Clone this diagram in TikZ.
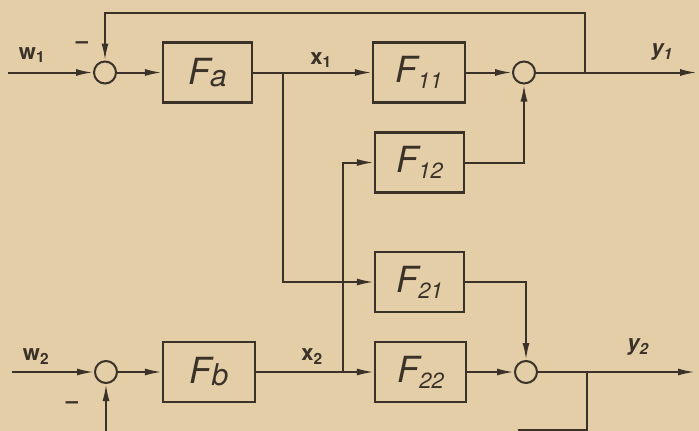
\documentclass[tikz,border=0pt]{standalone}
\usepackage{fontspec}
\setmainfont{TeX Gyre Heros}
\usetikzlibrary{arrows.meta}
\definecolor{paper}{HTML}{E3CEA8}
\definecolor{ink}{HTML}{3A3228}
\tikzset{
  blk/.style={draw=ink, line width=2.2pt, minimum width=89pt, minimum height=60pt, inner sep=0pt, text=ink},
  sum/.style={circle, draw=ink, line width=2pt, minimum size=22pt, inner sep=0pt},
  con/.style={draw=ink, line width=2pt},
  arr/.style={con, -{Latex[length=17pt,width=7pt]}},
  lbl/.style={text=ink, font=\fontsize{22}{22}\selectfont\bfseries},
  ff/.style={font=\fontsize{36}{36}\selectfont\itshape}
}
\begin{document}
\begin{tikzpicture}[x=1pt,y=-1pt]
\fill[paper] (0,0) rectangle (699,431);
\useasboundingbox (0,0) rectangle (699,431);

% sum junctions
\node[sum] (c1) at (105,72.5) {};
\node[sum] (c2) at (524,72.5) {};
\node[sum] (c3) at (106,372) {};
\node[sum] (c4) at (526,372) {};

% blocks
\node[blk, ff] (Fa) at (207.5,72.5) {F\raisebox{-2pt}{\fontsize{30}{30}\selectfont a}};
\node[blk, ff, minimum width=92pt] (F11) at (419,72.5) {F\raisebox{-6pt}{\fontsize{22}{22}\selectfont 11}};
\node[blk, ff] (F12) at (419.5,162.5) {F\raisebox{-6pt}{\fontsize{22}{22}\selectfont 12}};
\node[blk, ff] (F21) at (419.5,282) {F\raisebox{-6pt}{\fontsize{22}{22}\selectfont 21}};
\node[blk, ff, minimum width=92pt] (Fb) at (209,372) {F\raisebox{-2pt}{\fontsize{30}{30}\selectfont b}};
\node[blk, ff, minimum width=91pt] (F22) at (420.5,372) {F\raisebox{-6pt}{\fontsize{22}{22}\selectfont 22}};

% helper coordinates
\coordinate (in1) at (8,72.5);
\coordinate (in2) at (12,372);
\coordinate (out1) at (697,72.5);
\coordinate (out2) at (695,372);
\coordinate (fb1) at (585,72.5);
\coordinate (fb1t) at (585,13);
\coordinate (fb1l) at (105,13);
\coordinate (br1) at (283,72.5);
\coordinate (br1d) at (283,282);
\coordinate (br2) at (343,372);
\coordinate (br2u) at (343,162.5);
\coordinate (f12c) at (524,162.5);
\coordinate (f21c) at (526,282);
\coordinate (fb2) at (587,372);
\coordinate (fb2b) at (587,429.5);
\coordinate (fb2e) at (518,429.5);
\coordinate (fb3b) at (106,431);

% top row
\draw[arr] (in1) -- (c1);
\draw[arr] (c1) -- (Fa);
\draw[arr] (Fa) -- (F11);
\draw[arr] (F11) -- (c2);
\draw[arr] (c2) -- (out1);
\draw[arr] (fb1) -- (fb1t) -- (fb1l) -- (c1);
\draw[arr] (br1) -- (br1d) -- (F21);
\draw[arr] (F12) -- (f12c) -- (c2);

% bottom row
\draw[arr] (in2) -- (c3);
\draw[arr] (c3) -- (Fb);
\draw[arr] (Fb) -- (F22);
\draw[arr] (br2) -- (br2u) -- (F12);
\draw[arr] (F22) -- (c4);
\draw[arr] (c4) -- (out2);
\draw[arr] (F21) -- (f21c) -- (c4);
\draw[con] (fb2) -- (fb2b) -- (fb2e);
\draw[arr] (fb3b) -- (c3);

% labels
\node[lbl] (lw1) at (32,55) {w\textsubscript{1}};
\node[lbl] (lx1) at (321,60) {x\textsubscript{1}};
\node[lbl] (ly1) at (662,52) {\itshape y\textsubscript{1}};
\node[lbl] (lw2) at (36,357) {w\textsubscript{2}};
\node[lbl] (lx2) at (312,357) {x\textsubscript{2}};
\node[lbl] (ly2) at (638,347) {\itshape y\textsubscript{2}};
\node[lbl] (m1) at (82,45) {--};
\node[lbl] (m2) at (72,405) {--};
\end{tikzpicture}
\end{document}
